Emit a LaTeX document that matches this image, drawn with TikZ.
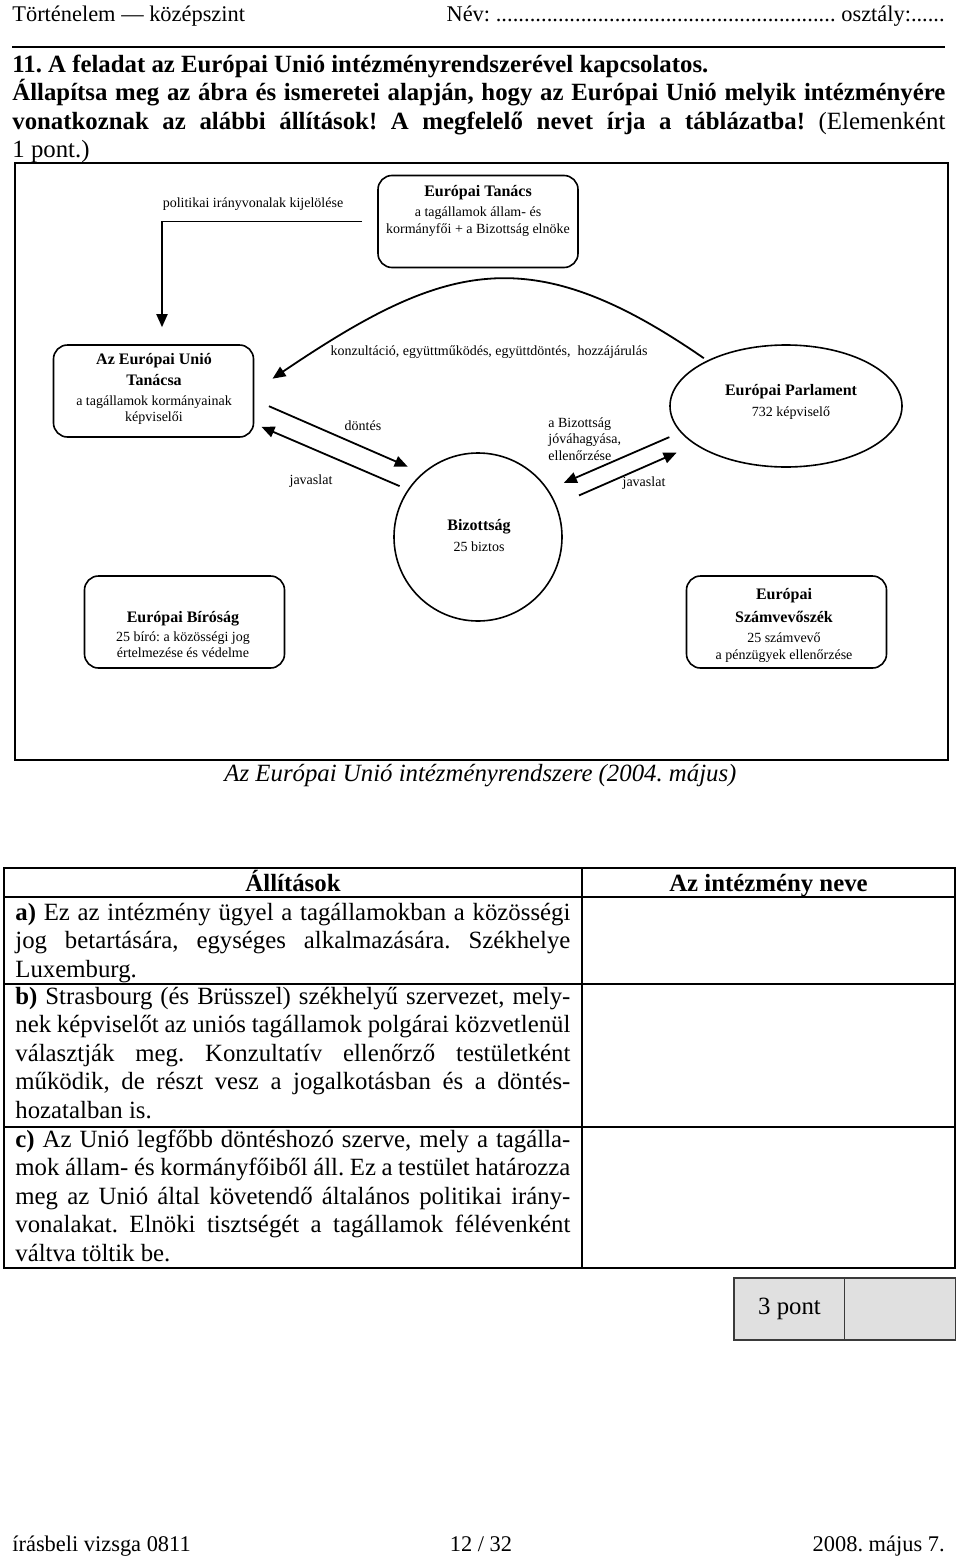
\documentclass[tikz,border=0pt]{standalone}
\usepackage{fontspec}
\setmainfont{Liberation Serif}
\usetikzlibrary{arrows.meta,shapes.geometric}
\definecolor{ink}{HTML}{000000}
\definecolor{pontfill}{HTML}{E0E0E0}
\definecolor{pontline}{HTML}{3A3A3A}
\newcommand{\bodyfont}{\fontsize{12.4}{14.25}\selectfont\lineskiplimit=-20pt}
\newcommand{\headfont}{\fontsize{11.2}{13}\selectfont}
\newcommand{\diagfont}{\fontsize{7}{8.25}\selectfont}
\newcommand{\instname}{\fontsize{8}{9.5}\selectfont\bfseries}
\tolerance=9999
\hyphenpenalty=10000
\frenchspacing
\tikzset{
  bodytext/.style={font=\bodyfont,text=ink,inner sep=0pt},
  headtext/.style={font=\headfont,text=ink,inner sep=0pt},
  headrule/.style={draw=ink,line width=1.3pt},
  diagframe/.style={draw=ink,line width=1.2pt},
  instbox/.style={
    draw=ink,
    rounded corners=7pt,
    line width=0.8pt,
    minimum width=100pt,
    minimum height=46pt,
    inner sep=0pt
  },
  parlshape/.style={draw=ink,ellipse,line width=0.8pt,
    minimum width=116pt,minimum height=61pt,inner sep=0pt},
  bizshape/.style={draw=ink,circle,line width=0.8pt,minimum size=84pt,inner sep=0pt},
  insttext/.style={align=center,font=\diagfont,text=ink,inner sep=0pt},
  edge label/.style={font=\diagfont,text=ink,inner sep=0pt},
  flow/.style={-{Triangle[length=6.5pt,width=5.5pt]},line width=0.9pt,draw=ink},
  tablerule/.style={draw=ink,line width=1.1pt},
  cellrule/.style={draw=ink,line width=0.6pt},
  celltext/.style={bodytext,anchor=north west,text width=277.5pt,align=justify},
  colhead/.style={bodytext,font=\bodyfont\bfseries,anchor=base},
  pontcell/.style={draw=pontline,fill=pontfill,line width=0.6pt,
    minimum width=55.5pt,minimum height=31pt,inner sep=0pt,font=\bodyfont,text=ink}
}

\begin{document}
\begin{tikzpicture}[x=0.5pt,y=-0.5pt]
  \useasboundingbox (0,0) rectangle (960,1558);

  % page head
  \node[headtext,anchor=base west] (tantargy) at (12,21) {Történelem — középszint};
  \node[headtext,anchor=base east] (nev) at (945,21)
    {\hbox to 249pt{Név: \xleaders\hbox{.}\hfill\ osztály:......}};
  \draw[headrule] (12,47) -- (945,47);

  \node[bodytext,anchor=north west,text width=466.5pt,align=justify] (feladat) at (12,52)
    {\strut\textbf{11. A feladat az Európai Unió intézményrendszerével kapcsolatos.}\newline
     \textbf{Állapítsa meg az ábra és ismeretei alapján, hogy az Európai Unió melyik intézményére}\linebreak
     \textbf{vonatkoznak az alábbi állítások! A megfelelő nevet írja a táblázatba!} (Elemenként\linebreak
     1 pont.)};

  % diagram
  \draw[diagframe] (15,163) rectangle (948,760);

  \node[instbox] (eutanacs) at (478,221.5) {};
  \node[insttext] (eutanacs text) at (478,211)
    {{\instname Európai Tanács}\\[1.75pt]a tagállamok állam- és\\[0.25pt]kormányfői + a Bizottság elnöke};

  \node[instbox] (tanacs) at (153.5,391) {};
  \node[insttext] (tanacs text) at (154,389)
    {{\instname Az Európai Unió}\\[2.25pt]{\instname Tanácsa}\\[1.75pt]a tagállamok kormányainak\\képviselői};

  \node[parlshape] (parlament) at (786,406) {};
  \node[insttext] (parlament text) at (791,401.5)
    {{\instname Európai Parlament}\\[2.25pt]732 képviselő};

  \node[bizshape] (bizottsag) at (478,537) {};
  \node[insttext] (bizottsag text) at (479,535.5)
    {{\instname Bizottság}\\[2.25pt]25 biztos};

  \node[instbox] (birosag) at (184.5,622) {};
  \node[insttext] (birosag text) at (183,634.5)
    {{\instname Európai Bíróság}\\[1.25pt]25 bíró: a közösségi jog\\értelmezése és védelme};

  \node[instbox] (szamvevo) at (786.5,622) {};
  \node[insttext] (szamvevo text) at (784,625)
    {{\instname Európai}\\[3.25pt]{\instname Számvevőszék}\\[1.75pt]25 számvevő\\[0.25pt]a pénzügyek ellenőrzése};

  % connectors
  \draw[flow,shorten <=7.5pt,shorten >=8.5pt] (eutanacs.west) -| ([xshift=4.25pt]tanacs.north);
  \node[edge label] (iranyvonal) at (253,204) {politikai irányvonalak kijelölése};

  \draw[flow,shorten <=2pt,shorten >=11pt]
    (parlament.150) .. controls (530,238) and (445,262) .. (tanacs.east);
  \node[edge label] (konzultacio) at (489,352)
    {konzultáció, együttműködés, együttdöntés,\ \ hozzájárulás};

  \draw[flow,shorten <=8pt,shorten >=8pt] (tanacs.355.2) -- (bizottsag.131);
  \node[edge label] (dontes) at (363,426) {döntés};
  \draw[flow,shorten <=4.4pt,shorten >=3.9pt] (bizottsag.146.5) -- (tanacs.342.8);
  \node[edge label] (javaslat bal) at (311,481) {javaslat};

  \draw[flow,shorten <=6pt,shorten >=8.5pt] (parlament.194.75) -- (bizottsag.34.4);
  \node[edge label,anchor=west,align=left] (jovahagyas) at (548,439)
    {a Bizottság\\jóváhagyása,\\ellenőrzése};
  \draw[flow,shorten <=12.2pt,shorten >=10pt] (bizottsag.22.8) -- (parlament.203.9);
  \node[edge label] (javaslat jobb) at (644,483) {javaslat};

  \node[bodytext,font=\bodyfont\itshape,anchor=base] (abracim) at (480.5,781)
    {Az Európai Unió intézményrendszere (2004. május)};

  % table
  \draw[tablerule] (4,868) rectangle (955,1268);
  \draw[cellrule] (582,868) -- (582,1268);
  \foreach \y in {897,984,1127}
    \draw[cellrule] (4,\y) -- (955,\y);

  \node[colhead] (allitasok) at (293,891) {Állítások};
  \node[colhead] (intezmeny) at (768.5,891) {Az intézmény neve};

  \node[celltext] (sor a) at (15,900)
    {\strut\textbf{a)} Ez az intézmény ügyel a tagállamokban a közösségi\linebreak
     jog betartására, egységes alkalmazására. Székhelye\linebreak
     Luxemburg.};
  \node[celltext] (sor b) at (15,984)
    {\strut\textbf{b)} Strasbourg (és Brüsszel) székhelyű szervezet, mely-\linebreak
     nek képviselőt az uniós tagállamok polgárai közvetlenül\linebreak
     választják meg. Konzultatív ellenőrző testületként\linebreak
     működik, de részt vesz a jogalkotásban és a döntés-\linebreak
     hozatalban is.};
  \node[celltext] (sor c) at (15,1127)
    {\strut\textbf{c)} Az Unió legfőbb döntéshozó szerve, mely a tagálla-\linebreak
     mok állam- és kormányfőiből áll. Ez a testület határozza\linebreak
     meg az Unió által követendő általános politikai irány-\linebreak
     vonalakat. Elnöki tisztségét a tagállamok félévenként\linebreak
     váltva töltik be.};

  \node[pontcell] (pont) at (789.5,1309) {3 pont};
  \node[pontcell] (pontszam) at (900,1309) {};

  % page foot
  \node[headtext,anchor=base west] (vizsga) at (12,1551) {írásbeli vizsga 0811};
  \node[headtext,anchor=base] (oldal) at (481,1551) {12 / 32};
  \node[headtext,anchor=base east] (datum) at (945,1551) {2008. május 7.};
\end{tikzpicture}
\end{document}
